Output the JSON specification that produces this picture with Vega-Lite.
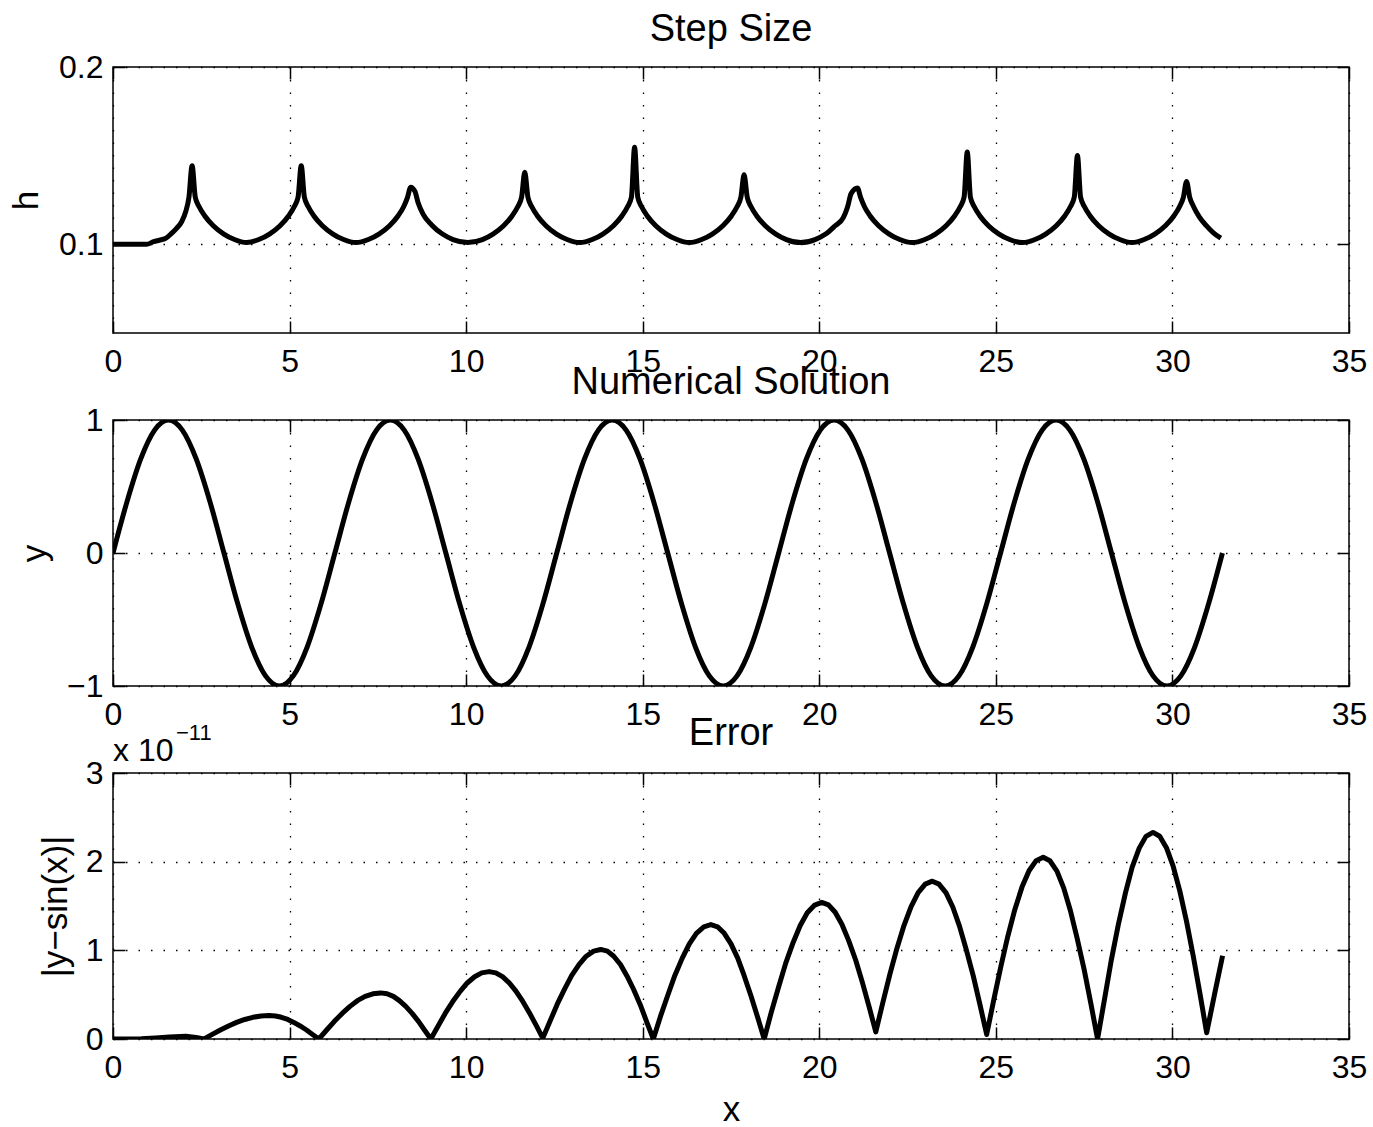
{
  "$schema": "https://vega.github.io/schema/vega-lite/v6.json",
  "background": "white",
  "padding": {"left": 8, "top": 10, "right": 10, "bottom": 0},
  "bounds": "flush",
  "spacing": 87,
  "config": {
    "font": "Liberation Sans",
    "view": {"stroke": "black", "strokeWidth": 1.5},
    "axis": {
      "domain": false,
      "labelFont": "Liberation Sans",
      "labelFontSize": 32,
      "labelColor": "black",
      "labelFlush": false,
      "labelOverlap": false,
      "tickColor": "black",
      "tickSize": -12,
      "tickWidth": 1.5,
      "grid": true,
      "gridColor": "black",
      "gridDash": [1.5, 11],
      "gridWidth": 1.3,
      "titleFont": "Liberation Sans",
      "titleFontSize": 35,
      "titleFontWeight": "normal",
      "titleColor": "black"
    },
    "title": {"font": "Liberation Sans", "fontSize": 38, "fontWeight": "normal", "color": "black", "frame": "group", "anchor": "middle", "offset": 2}
  },
  "datasets": {
    "h": [
      {"x":0,"v":0.1},{"x":0.5,"v":0.1},{"x":0.95,"v":0.1},{"x":1.15,"v":0.1015},{"x":1.35,"v":0.1025},{"x":1.5,"v":0.1035},{"x":1.65,"v":0.106},{"x":1.8,"v":0.109},{"x":1.95,"v":0.113},{"x":2.06,"v":0.1185},{"x":2.15,"v":0.1265},{"x":2.24,"v":0.1443},{"x":2.33,"v":0.1265},{"x":2.44,"v":0.1212},{"x":2.6,"v":0.116},{"x":2.84,"v":0.1105},{"x":3.14,"v":0.1058},{"x":3.44,"v":0.1027},{"x":3.785,"v":0.101},
      {"x":4.13,"v":0.1027},{"x":4.43,"v":0.1058},{"x":4.73,"v":0.1105},{"x":4.97,"v":0.116},{"x":5.13,"v":0.1212},{"x":5.24,"v":0.1265},{"x":5.33,"v":0.1443},{"x":5.42,"v":0.1265},{"x":5.53,"v":0.1212},{"x":5.69,"v":0.116},{"x":5.93,"v":0.1105},{"x":6.23,"v":0.1058},{"x":6.53,"v":0.1027},{"x":6.88,"v":0.101},
      {"x":7.23,"v":0.1027},{"x":7.53,"v":0.1058},{"x":7.83,"v":0.1105},{"x":8.07,"v":0.116},{"x":8.23,"v":0.1212},{"x":8.34,"v":0.1265},{"x":8.43,"v":0.1322},{"x":8.55,"v":0.1298},{"x":8.64,"v":0.1235},{"x":8.78,"v":0.117},{"x":9.03,"v":0.1108},{"x":9.33,"v":0.1058},{"x":9.63,"v":0.1027},{"x":10.045,"v":0.101},
      {"x":10.46,"v":0.1027},{"x":10.76,"v":0.1058},{"x":11.06,"v":0.1105},{"x":11.3,"v":0.116},{"x":11.46,"v":0.1212},{"x":11.57,"v":0.1265},{"x":11.66,"v":0.1407},{"x":11.75,"v":0.1265},{"x":11.86,"v":0.1212},{"x":12.02,"v":0.116},{"x":12.26,"v":0.1105},{"x":12.56,"v":0.1058},{"x":12.86,"v":0.1027},{"x":13.215,"v":0.101},
      {"x":13.57,"v":0.1027},{"x":13.87,"v":0.1058},{"x":14.17,"v":0.1105},{"x":14.41,"v":0.116},{"x":14.57,"v":0.1212},{"x":14.68,"v":0.1265},{"x":14.77,"v":0.1548},{"x":14.86,"v":0.1265},{"x":14.97,"v":0.1212},{"x":15.13,"v":0.116},{"x":15.37,"v":0.1105},{"x":15.67,"v":0.1058},{"x":15.97,"v":0.1027},{"x":16.32,"v":0.101},
      {"x":16.67,"v":0.1027},{"x":16.97,"v":0.1058},{"x":17.27,"v":0.1105},{"x":17.51,"v":0.116},{"x":17.67,"v":0.1212},{"x":17.78,"v":0.1265},{"x":17.87,"v":0.1392},{"x":17.96,"v":0.1265},{"x":18.07,"v":0.1212},{"x":18.23,"v":0.116},{"x":18.47,"v":0.1105},{"x":18.77,"v":0.1058},{"x":19.07,"v":0.1027},{"x":19.475,"v":0.101},
      {"x":19.88,"v":0.1027},{"x":20.18,"v":0.1058},{"x":20.45,"v":0.1105},{"x":20.68,"v":0.115},{"x":20.8,"v":0.121},{"x":20.9,"v":0.1285},{"x":21.08,"v":0.1318},{"x":21.17,"v":0.1265},{"x":21.28,"v":0.1212},{"x":21.44,"v":0.116},{"x":21.68,"v":0.1105},{"x":21.98,"v":0.1058},{"x":22.28,"v":0.1027},{"x":22.635,"v":0.101},
      {"x":22.99,"v":0.1027},{"x":23.29,"v":0.1058},{"x":23.59,"v":0.1105},{"x":23.83,"v":0.116},{"x":23.99,"v":0.1212},{"x":24.1,"v":0.1265},{"x":24.19,"v":0.152},{"x":24.28,"v":0.1265},{"x":24.39,"v":0.1212},{"x":24.55,"v":0.116},{"x":24.79,"v":0.1105},{"x":25.09,"v":0.1058},{"x":25.39,"v":0.1027},{"x":25.75,"v":0.101},
      {"x":26.11,"v":0.1027},{"x":26.41,"v":0.1058},{"x":26.71,"v":0.1105},{"x":26.95,"v":0.116},{"x":27.11,"v":0.1212},{"x":27.22,"v":0.1265},{"x":27.31,"v":0.1501},{"x":27.4,"v":0.1265},{"x":27.51,"v":0.1212},{"x":27.67,"v":0.116},{"x":27.91,"v":0.1105},{"x":28.21,"v":0.1058},{"x":28.51,"v":0.1027},{"x":28.855,"v":0.101},
      {"x":29.2,"v":0.1027},{"x":29.5,"v":0.1058},{"x":29.8,"v":0.1105},{"x":30.04,"v":0.116},{"x":30.2,"v":0.1212},{"x":30.31,"v":0.1265},{"x":30.4,"v":0.1354},{"x":30.49,"v":0.1265},{"x":30.6,"v":0.1212},{"x":30.76,"v":0.1155},{"x":30.96,"v":0.1105},{"x":31.16,"v":0.1065},{"x":31.37,"v":0.1035}
    ],
    "y": [
      {"x":0,"v":0},{"x":0.393,"v":0.3827},{"x":0.785,"v":0.7071},{"x":1.178,"v":0.9239},{"x":1.571,"v":1},{"x":1.963,"v":0.9239},{"x":2.356,"v":0.7071},{"x":2.749,"v":0.3827},{"x":3.142,"v":0},{"x":3.534,"v":-0.3827},{"x":3.927,"v":-0.7071},{"x":4.32,"v":-0.9239},{"x":4.712,"v":-1},{"x":5.105,"v":-0.9239},{"x":5.498,"v":-0.7071},{"x":5.89,"v":-0.3827},
      {"x":6.283,"v":0},{"x":6.676,"v":0.3827},{"x":7.069,"v":0.7071},{"x":7.461,"v":0.9239},{"x":7.854,"v":1},{"x":8.247,"v":0.9239},{"x":8.639,"v":0.7071},{"x":9.032,"v":0.3827},{"x":9.425,"v":0},{"x":9.817,"v":-0.3827},{"x":10.21,"v":-0.7071},{"x":10.603,"v":-0.9239},{"x":10.996,"v":-1},{"x":11.388,"v":-0.9239},{"x":11.781,"v":-0.7071},{"x":12.174,"v":-0.3827},
      {"x":12.566,"v":0},{"x":12.959,"v":0.3827},{"x":13.352,"v":0.7071},{"x":13.744,"v":0.9239},{"x":14.137,"v":1},{"x":14.53,"v":0.9239},{"x":14.923,"v":0.7071},{"x":15.315,"v":0.3827},{"x":15.708,"v":0},{"x":16.101,"v":-0.3827},{"x":16.493,"v":-0.7071},{"x":16.886,"v":-0.9239},{"x":17.279,"v":-1},{"x":17.671,"v":-0.9239},{"x":18.064,"v":-0.7071},{"x":18.457,"v":-0.3827},
      {"x":18.85,"v":0},{"x":19.242,"v":0.3827},{"x":19.635,"v":0.7071},{"x":20.028,"v":0.9239},{"x":20.42,"v":1},{"x":20.813,"v":0.9239},{"x":21.206,"v":0.7071},{"x":21.598,"v":0.3827},{"x":21.991,"v":0},{"x":22.384,"v":-0.3827},{"x":22.777,"v":-0.7071},{"x":23.169,"v":-0.9239},{"x":23.562,"v":-1},{"x":23.955,"v":-0.9239},{"x":24.347,"v":-0.7071},{"x":24.74,"v":-0.3827},
      {"x":25.133,"v":0},{"x":25.525,"v":0.3827},{"x":25.918,"v":0.7071},{"x":26.311,"v":0.9239},{"x":26.704,"v":1},{"x":27.096,"v":0.9239},{"x":27.489,"v":0.7071},{"x":27.882,"v":0.3827},{"x":28.274,"v":0},{"x":28.667,"v":-0.3827},{"x":29.06,"v":-0.7071},{"x":29.452,"v":-0.9239},{"x":29.845,"v":-1},{"x":30.238,"v":-0.9239},{"x":30.631,"v":-0.7071},{"x":31.023,"v":-0.3827},{"x":31.416,"v":0}
    ],
    "e": [
      {"x":0,"v":0},{"x":0.4,"v":0.001},{"x":0.8,"v":0.004},{"x":1.2,"v":0.012},{"x":1.6,"v":0.022},{"x":2.06,"v":0.03},{"x":2.35,"v":0.018},{"x":2.58,"v":0},
      {"x":2.81,"v":0.0517},{"x":3.04,"v":0.1014},{"x":3.27,"v":0.1472},{"x":3.5,"v":0.1874},{"x":3.73,"v":0.2203},{"x":3.96,"v":0.2448},{"x":4.19,"v":0.2599},{"x":4.42,"v":0.265},{"x":4.6,"v":0.2599},{"x":4.77,"v":0.2448},{"x":4.95,"v":0.2203},{"x":5.12,"v":0.1874},{"x":5.3,"v":0.1472},{"x":5.48,"v":0.1014},{"x":5.65,"v":0.0517},{"x":5.83,"v":0},
      {"x":6.05,"v":0.1015},{"x":6.27,"v":0.199},{"x":6.49,"v":0.2889},{"x":6.71,"v":0.3677},{"x":6.92,"v":0.4324},{"x":7.14,"v":0.4804},{"x":7.36,"v":0.51},{"x":7.58,"v":0.52},{"x":7.76,"v":0.51},{"x":7.94,"v":0.4804},{"x":8.11,"v":0.4324},{"x":8.29,"v":0.3677},{"x":8.47,"v":0.2889},{"x":8.65,"v":0.199},{"x":8.82,"v":0.1015},{"x":9.0,"v":0},
      {"x":9.21,"v":0.1483},{"x":9.41,"v":0.2909},{"x":9.62,"v":0.4223},{"x":9.83,"v":0.5374},{"x":10.03,"v":0.6319},{"x":10.24,"v":0.7022},{"x":10.44,"v":0.7454},{"x":10.65,"v":0.76},{"x":10.84,"v":0.7456},{"x":11.03,"v":0.7029},{"x":11.22,"v":0.6336},{"x":11.41,"v":0.5403},{"x":11.6,"v":0.4267},{"x":11.79,"v":0.297},{"x":11.98,"v":0.1563},{"x":12.17,"v":0.01},
      {"x":12.38,"v":0.2051},{"x":12.58,"v":0.3927},{"x":12.79,"v":0.5656},{"x":12.99,"v":0.7171},{"x":13.2,"v":0.8415},{"x":13.4,"v":0.9339},{"x":13.61,"v":0.9908},{"x":13.81,"v":1.01},{"x":14.0,"v":0.9906},{"x":14.18,"v":0.9331},{"x":14.37,"v":0.8398},{"x":14.55,"v":0.7142},{"x":14.74,"v":0.5612},{"x":14.93,"v":0.3865},{"x":15.11,"v":0.1971},{"x":15.3,"v":0},
      {"x":15.5,"v":0.2517},{"x":15.71,"v":0.4937},{"x":15.91,"v":0.7167},{"x":16.12,"v":0.9122},{"x":16.32,"v":1.0726},{"x":16.52,"v":1.1918},{"x":16.73,"v":1.2652},{"x":16.93,"v":1.29},{"x":17.12,"v":1.2652},{"x":17.31,"v":1.1918},{"x":17.5,"v":1.0726},{"x":17.69,"v":0.9122},{"x":17.87,"v":0.7167},{"x":18.06,"v":0.4937},{"x":18.25,"v":0.2517},{"x":18.44,"v":0},
      {"x":18.64,"v":0.3005},{"x":18.85,"v":0.5894},{"x":19.05,"v":0.8556},{"x":19.26,"v":1.0889},{"x":19.46,"v":1.2805},{"x":19.66,"v":1.4228},{"x":19.87,"v":1.5104},{"x":20.07,"v":1.54},{"x":20.26,"v":1.512},{"x":20.45,"v":1.4289},{"x":20.64,"v":1.294},{"x":20.83,"v":1.1124},{"x":21.03,"v":0.8912},{"x":21.22,"v":0.6387},{"x":21.41,"v":0.3648},{"x":21.6,"v":0.08},
      {"x":21.8,"v":0.4117},{"x":22.0,"v":0.7306},{"x":22.2,"v":1.0245},{"x":22.4,"v":1.2821},{"x":22.6,"v":1.4936},{"x":22.8,"v":1.6506},{"x":23.0,"v":1.7474},{"x":23.2,"v":1.78},{"x":23.39,"v":1.7468},{"x":23.59,"v":1.6483},{"x":23.78,"v":1.4885},{"x":23.97,"v":1.2733},{"x":24.16,"v":1.0112},{"x":24.36,"v":0.7121},{"x":24.55,"v":0.3875},{"x":24.74,"v":0.05},
      {"x":24.94,"v":0.4402},{"x":25.14,"v":0.8154},{"x":25.34,"v":1.1612},{"x":25.54,"v":1.4642},{"x":25.74,"v":1.713},{"x":25.94,"v":1.8978},{"x":26.14,"v":2.0116},{"x":26.34,"v":2.05},{"x":26.53,"v":2.0106},{"x":26.73,"v":1.894},{"x":26.92,"v":1.7046},{"x":27.11,"v":1.4496},{"x":27.3,"v":1.139},{"x":27.5,"v":0.7845},{"x":27.69,"v":0.4},{"x":27.88,"v":0},
      {"x":28.08,"v":0.4546},{"x":28.27,"v":0.8917},{"x":28.47,"v":1.2945},{"x":28.67,"v":1.6475},{"x":28.86,"v":1.9374},{"x":29.06,"v":2.1527},{"x":29.25,"v":2.2853},{"x":29.45,"v":2.33},{"x":29.64,"v":2.2866},{"x":29.83,"v":2.158},{"x":30.02,"v":1.9492},{"x":30.21,"v":1.668},{"x":30.4,"v":1.3257},{"x":30.59,"v":0.9349},{"x":30.78,"v":0.5109},{"x":30.97,"v":0.07},
      {"x":31.2,"v":0.52},{"x":31.42,"v":0.94}
    ],
    "lbl": [{"t": "x 10", "s": "−11"}]
  },
  "vconcat": [
    {
      "width": 1236, "height": 266,
      "title": {"text": "Step Size"},
      "data": {"name": "h"},
      "resolve": {"axis": {"x": "independent", "y": "independent"}},
      "layer": [
        {
          "mark": {"type": "line", "color": "black", "strokeWidth": 5, "interpolate": "monotone", "strokeJoin": "round", "strokeCap": "butt", "clip": true},
          "encoding": {
            "x": {"field": "x", "type": "quantitative", "scale": {"domain": [0, 35], "nice": false, "zero": false}, "axis": {"values": [0,5,10,15,20,25,30,35], "format": "d", "title": null, "labelPadding": 25}},
            "y": {"field": "v", "type": "quantitative", "scale": {"domain": [0.05, 0.2], "nice": false, "zero": false}, "axis": {"values": [0.1, 0.2], "format": ".1f", "title": "h", "labelPadding": 22, "titlePadding": 14}}
          }
        },
        {
          "mark": {"type": "line", "strokeOpacity": 0},
          "encoding": {
            "x": {"field": "x", "type": "quantitative", "axis": {"orient": "top", "values": [0,5,10,15,20,25,30,35], "labels": false, "grid": false, "title": null}},
            "y": {"field": "v", "type": "quantitative", "axis": {"orient": "right", "values": [0.1, 0.2], "labels": false, "grid": false, "title": null}}
          }
        }
      ]
    },
    {
      "width": 1236, "height": 266,
      "title": {"text": "Numerical Solution"},
      "data": {"name": "y"},
      "resolve": {"axis": {"x": "independent", "y": "independent"}},
      "layer": [
        {
          "mark": {"type": "line", "color": "black", "strokeWidth": 5, "interpolate": "monotone", "strokeJoin": "round", "strokeCap": "butt", "clip": true},
          "encoding": {
            "x": {"field": "x", "type": "quantitative", "scale": {"domain": [0, 35], "nice": false, "zero": false}, "axis": {"values": [0,5,10,15,20,25,30,35], "format": "d", "title": null, "labelPadding": 25}},
            "y": {"field": "v", "type": "quantitative", "scale": {"domain": [-1, 1], "nice": false, "zero": false}, "axis": {"values": [-1, 0, 1], "labelExpr": "datum.value < 0 ? '−1' : (datum.value > 0 ? '1' : '0')", "title": "y", "labelPadding": 22, "titlePadding": 14}}
          }
        },
        {
          "mark": {"type": "line", "strokeOpacity": 0},
          "encoding": {
            "x": {"field": "x", "type": "quantitative", "axis": {"orient": "top", "values": [0,5,10,15,20,25,30,35], "labels": false, "grid": false, "title": null}},
            "y": {"field": "v", "type": "quantitative", "axis": {"orient": "right", "values": [-1, 0, 1], "labels": false, "grid": false, "title": null}}
          }
        }
      ]
    },
    {
      "width": 1236, "height": 266,
      "title": {"text": "Error", "offset": -31},
      "resolve": {"axis": {"x": "independent", "y": "independent"}},
      "layer": [
        {
          "data": {"name": "e"},
          "mark": {"type": "line", "color": "black", "strokeWidth": 5, "strokeJoin": "round", "strokeCap": "butt", "clip": true},
          "encoding": {
            "x": {"field": "x", "type": "quantitative", "scale": {"domain": [0, 35], "nice": false, "zero": false}, "axis": {"values": [0,5,10,15,20,25,30,35], "format": "d", "title": "x", "labelPadding": 25, "titlePadding": 9}},
            "y": {"field": "v", "type": "quantitative", "scale": {"domain": [0, 3], "nice": false, "zero": false}, "axis": {"values": [0, 1, 2, 3], "format": "d", "title": "|y−sin(x)|", "labelPadding": 22, "titlePadding": 12}}
          }
        },
        {
          "data": {"name": "e"},
          "mark": {"type": "line", "strokeOpacity": 0},
          "encoding": {
            "x": {"field": "x", "type": "quantitative", "axis": {"orient": "top", "values": [0,5,10,15,20,25,30,35], "labels": false, "grid": false, "title": null}},
            "y": {"field": "v", "type": "quantitative", "axis": {"orient": "right", "values": [0, 1, 2, 3], "labels": false, "grid": false, "title": null}}
          }
        },
        {
          "data": {"name": "lbl"},
          "mark": {"type": "text", "font": "Liberation Sans", "fontSize": 32, "color": "black", "align": "left", "baseline": "alphabetic", "dx": 0, "dy": -12},
          "encoding": {
            "x": {"datum": 0, "type": "quantitative", "axis": null},
            "y": {"datum": 3, "type": "quantitative", "axis": null},
            "text": {"field": "t"}
          }
        },
        {
          "data": {"name": "lbl"},
          "mark": {"type": "text", "font": "Liberation Sans", "fontSize": 22, "color": "black", "align": "left", "baseline": "alphabetic", "dx": 63, "dy": -33},
          "encoding": {
            "x": {"datum": 0, "type": "quantitative", "axis": null},
            "y": {"datum": 3, "type": "quantitative", "axis": null},
            "text": {"field": "s"}
          }
        }
      ]
    }
  ]
}
